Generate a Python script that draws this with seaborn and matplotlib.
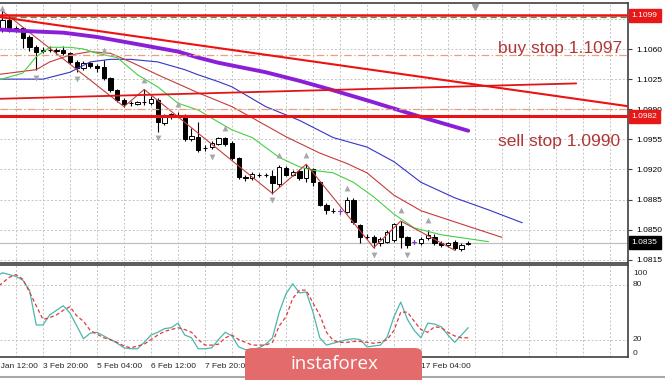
import numpy as np
import pandas as pd
import matplotlib
matplotlib.use("Agg")
import matplotlib.pyplot as plt
import matplotlib.transforms as mtransforms
from matplotlib.patches import FancyBboxPatch
from matplotlib.lines import Line2D
import seaborn as sns

sns.set_theme(style="white")
plt.rcParams['font.family'] = ['Liberation Sans', 'DejaVu Sans']

# EURUSD H4, bar index 0 = 31 Jan 12:00
bars = list(range(2, 72))
opens = [1.1083, 1.1094, 1.1084, 1.1084, 1.1074, 1.1062, 1.1058, 1.1059, 1.1059, 1.1059,
         1.1055, 1.1045, 1.1038, 1.1044, 1.1040, 1.1039, 1.1026, 1.1012, 1.1001, 1.0997,
         1.0996, 1.0998, 1.0997, 1.1001, 1.0974, 1.0981, 1.0983, 1.0983, 1.0955, 1.0958,
         1.0945, 1.0946, 1.0950, 1.0956, 1.0951, 1.0933, 1.0911, 1.0910, 1.0914, 1.0913,
         1.0912, 1.0903, 1.0922, 1.0914, 1.0918, 1.0910, 1.0920, 1.0905, 1.0879, 1.0872,
         1.0872, 1.0871, 1.0885, 1.0855, 1.0842, 1.0842, 1.0834, 1.0836, 1.0838, 1.0854,
         1.0841, 1.0836, 1.0834, 1.0840, 1.0841, 1.0835, 1.0832, 1.0836, 1.0827, 1.0833]
highs = [1.1104, 1.1098, 1.1087, 1.1086, 1.1076, 1.1065, 1.1062, 1.1063, 1.1061, 1.1063,
         1.1057, 1.1047, 1.1046, 1.1045, 1.1042, 1.1047, 1.1028, 1.1014, 1.1003, 1.1000,
         1.1000, 1.1013, 1.1005, 1.1003, 1.0984, 1.0986, 1.0987, 1.0985, 1.0968, 1.0975,
         1.0948, 1.0953, 1.0958, 1.0958, 1.0953, 1.0935, 1.0913, 1.0917, 1.0916, 1.0916,
         1.0919, 1.0925, 1.0924, 1.0919, 1.0920, 1.0926, 1.0922, 1.0907, 1.0881, 1.0875,
         1.0874, 1.0888, 1.0887, 1.0857, 1.0845, 1.0844, 1.0841, 1.0849, 1.0858, 1.0860,
         1.0843, 1.0838, 1.0841, 1.0850, 1.0845, 1.0837, 1.0836, 1.0838, 1.0834, 1.0837]
lows = [1.1080, 1.1080, 1.1080, 1.1061, 1.1058, 1.1036, 1.1055, 1.1056, 1.1054, 1.1053,
        1.1043, 1.1033, 1.1036, 1.1038, 1.1033, 1.1024, 1.1010, 1.0998, 1.0993, 1.0994,
        1.0995, 1.0995, 1.0995, 1.0964, 1.0972, 1.0979, 1.0981, 1.0953, 1.0953, 1.0940,
        1.0942, 1.0944, 1.0948, 1.0947, 1.0931, 1.0909, 1.0907, 1.0908, 1.0911, 1.0911,
        1.0892, 1.0900, 1.0912, 1.0912, 1.0908, 1.0905, 1.0901, 1.0877, 1.0868, 1.0869,
        1.0868, 1.0869, 1.0857, 1.0834, 1.0839, 1.0829, 1.0831, 1.0834, 1.0836, 1.0829,
        1.0829, 1.0833, 1.0832, 1.0838, 1.0832, 1.0830, 1.0830, 1.0826, 1.0825, 1.0832]
closes = [1.1094, 1.1084, 1.1083, 1.1073, 1.1062, 1.1057, 1.1059, 1.1059, 1.1058, 1.1055,
          1.1045, 1.1038, 1.1044, 1.1040, 1.1038, 1.1026, 1.1012, 1.1001, 1.0996, 1.0997,
          1.0998, 1.0998, 1.1002, 1.0975, 1.0982, 1.0984, 1.0983, 1.0955, 1.0959, 1.0943,
          1.0945, 1.0951, 1.0956, 1.0950, 1.0933, 1.0911, 1.0910, 1.0915, 1.0913, 1.0913,
          1.0904, 1.0923, 1.0914, 1.0917, 1.0910, 1.0922, 1.0905, 1.0879, 1.0873, 1.0872,
          1.0872, 1.0885, 1.0859, 1.0842, 1.0842, 1.0836, 1.0839, 1.0847, 1.0856, 1.0841,
          1.0832, 1.0836, 1.0839, 1.0844, 1.0834, 1.0832, 1.0835, 1.0829, 1.0832, 1.0835]
purple_doji = [52, 63]

# indicator lines (bar, price)
ma_purple_x = [1, 5, 11, 16, 21, 28, 31, 34, 41, 46, 51, 57, 64, 71]
ma_purple_y = [1.1083, 1.1081, 1.1079, 1.1074, 1.1067, 1.1057, 1.1050, 1.1044, 1.1033,
               1.1023, 1.1012, 1.0998, 1.0981, 1.0965]
jaw_x = [1, 8, 12, 15, 18, 21, 25, 29, 31, 34, 36, 41, 46, 51, 56, 60, 64, 69, 74, 79]
jaw_y = [1.1025, 1.1025, 1.1033, 1.1045, 1.1048, 1.1048, 1.1045, 1.1036, 1.1030, 1.1022,
         1.1016, 1.0993, 1.0977, 1.0957, 1.0946, 1.0929, 1.0905, 1.0887, 1.0873, 1.0858]
teeth_x = [1, 7, 9, 12, 15, 18, 21, 25, 31, 36, 39, 44, 49, 53, 56, 60, 64, 69, 76]
teeth_y = [1.1030, 1.1036, 1.1045, 1.1053, 1.1057, 1.1055, 1.1045, 1.1030, 1.1009, 1.0993,
           1.0980, 1.0958, 1.0939, 1.0927, 1.0916, 1.0890, 1.0872, 1.0859, 1.0841]
lips_x = [1, 5, 7, 9, 12, 14, 16, 19, 22, 25, 28, 31, 34, 36, 39, 43, 46, 48, 51, 54,
          57, 60, 63, 67, 74]
lips_y = [1.1023, 1.1032, 1.1051, 1.1062, 1.1062, 1.1060, 1.1055, 1.1050, 1.1030, 1.1016,
          1.0997, 1.0989, 1.0975, 1.0966, 1.0957, 1.0934, 1.0923, 1.0919, 1.0916, 1.0905,
          1.0888, 1.0868, 1.0852, 1.0844, 1.0836]
zz_x = [2, 20, 23, 42, 47, 57, 61, 69]
zz_y = [1.1104, 1.0993, 1.1013, 1.0892, 1.0926, 1.0829, 1.0860, 1.0826]
fr_up_x = [2, 17, 23, 28, 35, 43, 47, 53, 61, 65]
fr_up_y = [1.1108, 1.1059, 1.1024, 1.0996, 1.0968, 1.0937, 1.0937, 1.0898, 1.0873, 1.0861]
fr_dn_x = [7, 13, 25, 33, 42, 57, 62]
fr_dn_y = [1.1026, 1.1025, 1.0957, 1.0934, 1.0884, 1.0820, 1.0820]

# drawn levels and trend lines
red_levels = [1.1099, 1.0982]
buy_stop = 1.1097
orange_levels = [1.1053, 1.0990]
last_price = 1.0835
trend_down_x = [0, 96]
trend_down_y = [1.1099, 1.0992]
trend_up_x = [1, 87]
trend_up_y = [1.1002, 1.1020]

# stochastic
sto_x = list(range(1, 72))
sto_main = [89, 93, 91, 89, 85, 74, 36, 36, 47, 52, 57, 49, 35, 21, 27, 28, 24, 20, 16, 11,
            10, 10, 17, 25, 28, 32, 33, 38, 25, 22, 10, 10, 11, 20, 28, 24, 12, 9, 9, 11,
            15, 22, 50, 70, 81, 71, 72, 50, 22, 14, 16, 18, 20, 21, 20, 12, 13, 14, 23, 45,
            61, 42, 30, 22, 38, 37, 34, 25, 17, 25, 33]
sto_signal = [76, 82, 88, 91, 86, 72, 57, 42, 44, 47, 52, 56, 46, 40, 30, 26, 22, 20, 17, 13,
              11, 13, 15, 20, 25, 29, 31, 33, 31, 28, 20, 14, 14, 15, 22, 25, 20, 17, 14, 14,
              14, 17, 35, 45, 65, 74, 74, 60, 47, 28, 19, 17, 17, 18, 18, 17, 16, 17, 20, 30,
              50, 50, 40, 31, 28, 34, 33, 28, 24, 22, 22]

price_ticks = [1.0815, 1.0850, 1.0885, 1.0920, 1.0955, 1.0990, 1.1025, 1.1060, 1.1095]
time_pos = [0, 8, 16, 24, 32, 40, 48, 56, 64]
time_labels = ['31 Jan 12:00', '3 Feb 20:00', '5 Feb 04:00', '6 Feb 12:00', '7 Feb 20:00',
               '11 Feb 04:00', '12 Feb 12:00', '13 Feb 20:00', '17 Feb 04:00']

W, H = 665, 380
fig = plt.figure(figsize=(W / 100, H / 100), dpi=100)
fig.patch.set_facecolor('white')
ax = fig.add_axes([0, 1 - 263 / H, 628 / W, (263 - 3) / H])
ax2 = fig.add_axes([0, 1 - 357 / H, 628 / W, (357 - 265) / H], sharex=ax)

grid_kw = dict(color='#c4c4c4', linestyle=(0, (2, 2)), linewidth=0.7)
for a in (ax, ax2):
    a.set_facecolor('white')
    a.set_xticks(range(4, 96, 4))
    a.tick_params(axis='x', length=0, labelbottom=False)
    a.grid(True, **grid_kw)
    a.spines['left'].set_visible(False)
    for s in ('top', 'right', 'bottom'):
        a.spines[s].set_color('#404040')
        a.spines[s].set_linewidth(1.2)
ax.set_xlim(1.63, 94.67)

# main price panel
ax.set_ylim(1.08112, 1.11135)
ax.yaxis.tick_right()
ax.set_yticks(price_ticks)
ax.set_yticklabels([f'{p:.4f}' for p in price_ticks])
ax.tick_params(axis='y', direction='out', length=3, width=0.8, color='#404040',
               labelsize=6, pad=3, labelcolor='black')

ax.axhline(last_price, color='#c0c0c0', lw=0.9, zorder=1)

# candles
df = pd.DataFrame({'bar': bars, 'o': opens, 'h': highs, 'l': lows, 'c': closes})
df['bottom'] = df[['o', 'c']].min(axis=1)
df['height'] = (df['c'] - df['o']).abs()
df['up'] = df['c'] > df['o']
ax.vlines(df['bar'], df['l'], df['h'], color='black', lw=0.8, zorder=3)
for up, sub in df.groupby('up'):
    ax.bar(sub['bar'], sub['height'], bottom=sub['bottom'], width=0.6,
           facecolor='white' if up else 'black', edgecolor='black', linewidth=0.7, zorder=4)
pd_df = df[df['bar'].isin(purple_doji)]
ax.vlines(pd_df['bar'], pd_df['l'], pd_df['h'], color='#8a2be2', lw=0.8, zorder=5)
ax.hlines(pd_df['c'], pd_df['bar'] - 0.3, pd_df['bar'] + 0.3, color='#8a2be2', lw=0.8, zorder=5)

# indicators
sns.lineplot(x=jaw_x, y=jaw_y, ax=ax, color='#3434c8', lw=0.8, zorder=6)
sns.lineplot(x=teeth_x, y=teeth_y, ax=ax, color='#c83a3a', lw=0.8, zorder=6)
sns.lineplot(x=lips_x, y=lips_y, ax=ax, color='#44d044', lw=0.8, zorder=6)
sns.lineplot(x=zz_x, y=zz_y, ax=ax, color='#c04040', lw=0.8, zorder=6)
sns.lineplot(x=ma_purple_x, y=ma_purple_y, ax=ax, color='#8b1fd8', lw=2.8, zorder=7)
ax.scatter(fr_up_x, fr_up_y, marker='^', s=18, color='#a8a8a8', zorder=8, linewidths=0)
ax.scatter(fr_dn_x, fr_dn_y, marker='v', s=18, color='#a8a8a8', zorder=8, linewidths=0)

# objects
ax.axhline(buy_stop, color='#4f8a4f', lw=0.9, linestyle=(0, (5, 3)), zorder=8)
for lv in orange_levels:
    ax.axhline(lv, color='#e8a07c', lw=0.9, linestyle=(0, (6, 2, 1, 2)), zorder=8)
ax.axhline(red_levels[0], color='#ee1111', lw=1.8, zorder=9)
ax.axhline(red_levels[1], color='#ee1111', lw=2.2, zorder=9)
sns.lineplot(x=trend_down_x, y=trend_down_y, ax=ax, color='#ee1111', lw=1.5, zorder=9)
sns.lineplot(x=trend_up_x, y=trend_up_y, ax=ax, color='#e01515', lw=1.3, zorder=9)

ax.text(75.4, 1.1061, 'buy stop 1.1097', fontsize=12.5, color='#b03636', va='center',
        ha='left', zorder=10)
ax.text(75.4, 1.0953, 'sell stop 1.0990', fontsize=12.5, color='#b03636', va='center',
        ha='left', zorder=10)

trans = mtransforms.blended_transform_factory(ax.transAxes, ax.transData)
for lv, fc in [(red_levels[0], '#e81818'), (red_levels[1], '#e81818'), (last_price, 'black')]:
    ax.text(1.006, lv, f'{lv:.4f}', transform=trans, fontsize=6, color='white', va='center',
            ha='left', clip_on=False, zorder=20,
            bbox=dict(boxstyle='square,pad=0.35', fc=fc, ec=fc))
ax.plot([72], [0.985], marker='v', color='#a0a0a0', ms=5, transform=ax.get_xaxis_transform(),
        clip_on=False, zorder=20)

# stochastic panel
ax2.set_ylim(1, 101.5)
ax2.set_yticks([20, 80])
ax2.set_yticklabels([])
ax2.tick_params(axis='y', length=0)
sns.lineplot(x=sto_x, y=sto_main, ax=ax2, color='#4db6ac', lw=0.9)
sns.lineplot(x=sto_x, y=sto_signal, ax=ax2, color='#e03a3a', lw=0.9, linestyle=(0, (3, 2)))
trans2 = mtransforms.blended_transform_factory(ax2.transAxes, ax2.transData)
for v, lab in [(92, '100'), (80, '80'), (20, '20'), (5, '0')]:
    ax2.text(1.008, v, lab, transform=trans2, fontsize=6, va='center', ha='left', clip_on=False)
for pos, lab in zip(time_pos, time_labels):
    ax2.text(pos, -0.1, lab, transform=ax2.get_xaxis_transform(), fontsize=6, ha='left',
             va='center', clip_on=False)
for a in (ax, ax2):
    a.set_xlabel('')
    a.set_ylabel('')
    if a.get_legend():
        a.get_legend().remove()

# frame lines and watermark
fig.add_artist(Line2D([0, 1], [1 - 377 / H] * 2, color='#a8a8a8', lw=1.5))
fig.add_artist(FancyBboxPatch((245 / W, -0.05), 177 / W, (380 - 348) / H + 0.05,
                              boxstyle='round,pad=0,rounding_size=0.012',
                              transform=fig.transFigure, fc='#e36b6b', ec='none', zorder=10))
fig.text(290 / W, 1 - 364 / H, 'instaforex', fontsize=13.5, color='white', family='Open Sans',
         ha='left', va='center', zorder=11)

fig.savefig('out.png', dpi=100)
